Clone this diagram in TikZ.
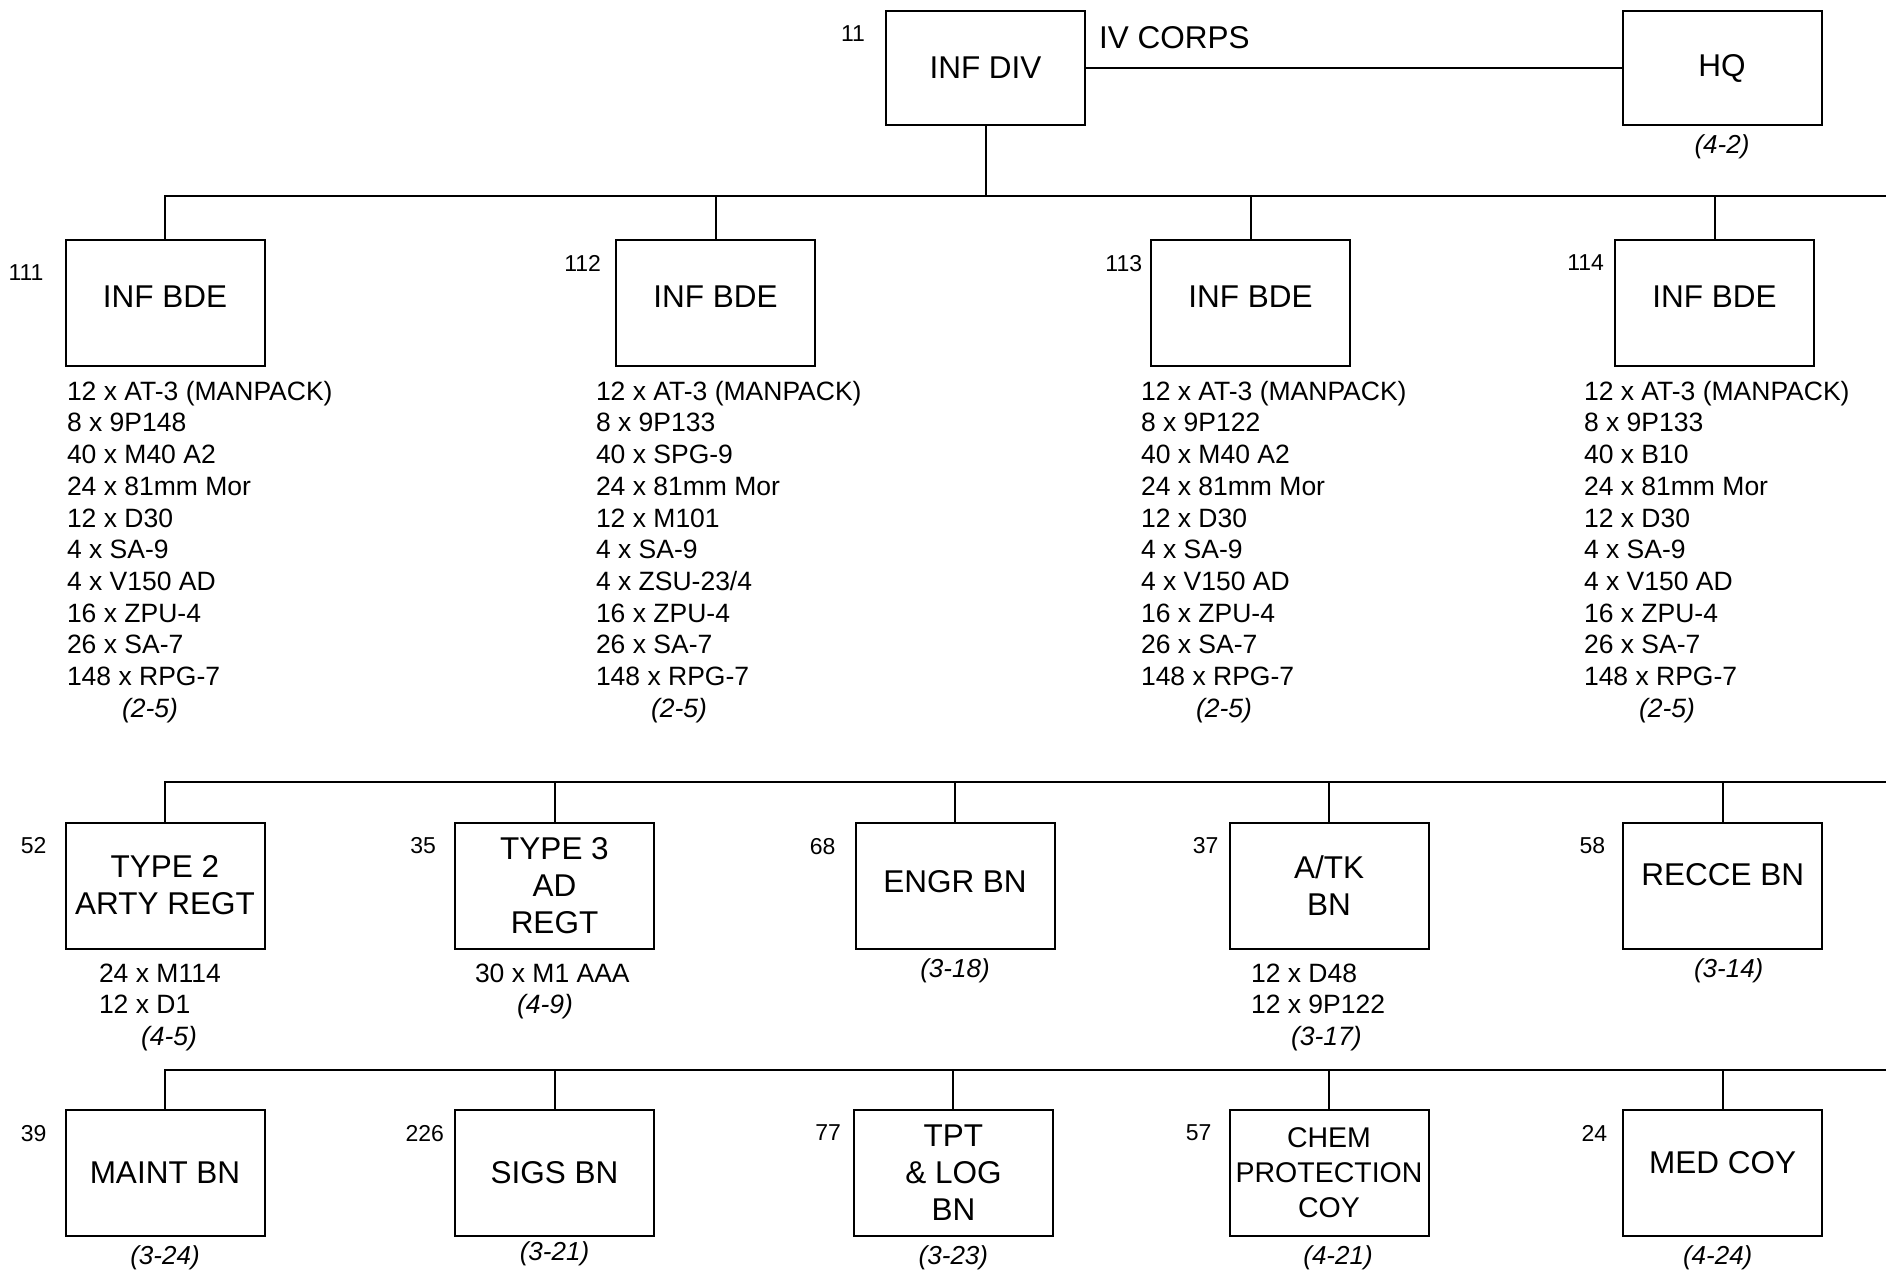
\documentclass[tikz,border=0pt]{standalone}
\usepackage{fontspec}
\setmainfont{Liberation Sans}
\usepackage{tikz}
\usetikzlibrary{positioning}
\newcommand\unitfont{\fontsize{31.5}{37}\selectfont}
\newcommand\chemfont{\fontsize{28.5}{35}\selectfont}
\newcommand\kitfont{\fontsize{26.5}{31.7}\selectfont}
\newcommand\numfont{\fontsize{23}{26}\selectfont}
\newcommand\reffont{\fontsize{26}{31}\selectfont\itshape}

\begin{document}
\begin{tikzpicture}[x=1pt,y=-1pt,line width=2pt,
    unit/.style={draw,minimum width=199pt,minimum height=126pt,inner sep=2pt,align=center,font=\unitfont},
    kit/.style={anchor=north west,align=left,inner sep=0pt,font=\kitfont},
    num/.style={inner sep=0pt,font=\numfont},
    ref/.style={inner sep=0pt,font=\reffont}]
        \useasboundingbox (0,0) rectangle (1886,1270);

        % division and corps HQ
        \node[unit,minimum height=114pt] (div) at (985.5,67.5) {INF DIV};
        \node[unit,minimum height=114pt,text depth=4pt] (hq) at (1722,67.5) {HQ};
        \node[num,below left=15pt and 19pt of div.north west] (n11) {11};
        \node[inner sep=0pt,font=\unitfont,below right=16pt and 12pt of div.north east] (corps) {IV CORPS};
        \node[ref,below=8pt of hq] (r42) {(4-2)};
        \draw (div) -- (hq);

        % brigades
        \node[unit,text depth=12pt] (b111) at (165,303) {INF BDE};
        \node[unit,text depth=12pt] (b112) at (715.5,303) {INF BDE};
        \node[unit,text depth=12pt] (b113) at (1250.6,303) {INF BDE};
        \node[unit,text depth=12pt] (b114) at (1714.5,303) {INF BDE};
        \node[num,below left=25pt and 20pt of b111.north west] (n111) {111};
        \node[num,below left=15pt and 13pt of b112.north west] (n112) {112};
        \node[num,below left=15pt and 7pt of b113.north west] (n113) {113};
        \node[num,below left=15pt and 9pt of b114.north west] (n114) {114};
        \node[kit] (k111) at (66,380) {12 x AT-3 (MANPACK)\\8 x 9P148\\40 x M40 A2\\24 x 81mm Mor\\12 x D30\\4 x SA-9\\4 x V150 AD\\16 x ZPU-4\\26 x SA-7\\148 x RPG-7\\\hspace*{55pt}\textit{(2-5)}};
        \node[kit] (k112) at (595,380) {12 x AT-3 (MANPACK)\\8 x 9P133\\40 x SPG-9\\24 x 81mm Mor\\12 x M101\\4 x SA-9\\4 x ZSU-23/4\\16 x ZPU-4\\26 x SA-7\\148 x RPG-7\\\hspace*{55pt}\textit{(2-5)}};
        \node[kit] (k113) at (1140,380) {12 x AT-3 (MANPACK)\\8 x 9P122\\40 x M40 A2\\24 x 81mm Mor\\12 x D30\\4 x SA-9\\4 x V150 AD\\16 x ZPU-4\\26 x SA-7\\148 x RPG-7\\\hspace*{55pt}\textit{(2-5)}};
        \node[kit] (k114) at (1583,380) {12 x AT-3 (MANPACK)\\8 x 9P133\\40 x B10\\24 x 81mm Mor\\12 x D30\\4 x SA-9\\4 x V150 AD\\16 x ZPU-4\\26 x SA-7\\148 x RPG-7\\\hspace*{55pt}\textit{(2-5)}};
        \coordinate (bus1) at (1886,196);
        \draw (div.south) -- (div.south |- bus1);
        \draw (b111.north) |- (bus1);
        \draw (b112.north) -- (b112.north |- bus1);
        \draw (b113.north) -- (b113.north |- bus1);
        \draw (b114.north) -- (b114.north |- bus1);

        % divisional troops, first line
        \node[unit] (b52) at (165,885.5) {TYPE 2\\ARTY REGT};
        \node[unit] (b35) at (554.5,885.5) {TYPE 3\\AD\\REGT};
        \node[unit,text depth=10pt] (b68) at (955,886) {ENGR BN};
        \node[unit] (b37) at (1329,885.5) {A/TK\\BN};
        \node[unit,text depth=22pt] (b58) at (1722.7,885.5) {RECCE BN};
        \node[num,below left=15pt and 17pt of b52.north west] (n52) {52};
        \node[num,below left=15pt and 17pt of b35.north west] (n35) {35};
        \node[num,below left=15pt and 18pt of b68.north west] (n68) {68};
        \node[num,below left=15pt and 9pt of b37.north west] (n37) {37};
        \node[num,below left=15pt and 16pt of b58.north west] (n58) {58};
        \node[kit] (k52) at (98,962.5) {24 x M114\\12 x D1\\\hspace*{42pt}\textit{(4-5)}};
        \node[kit] (k35) at (474,962.5) {30 x M1 AAA\\\hspace*{42pt}\textit{(4-9)}};
        \node[ref,below=8pt of b68] (r68) {(3-18)};
        \node[kit] (k37) at (1250,962.5) {12 x D48\\12 x 9P122\\\hspace*{40pt}\textit{(3-17)}};
        \node[ref,below=8pt of b58,xshift=6pt] (r58) {(3-14)};
        \coordinate (bus2) at (1886,782);
        \draw (b52.north) |- (bus2);
        \draw (b35.north) -- (b35.north |- bus2);
        \draw (b68.north) -- (b68.north |- bus2);
        \draw (b37.north) -- (b37.north |- bus2);
        \draw (b58.north) -- (b58.north |- bus2);

        % divisional troops, second line
        \node[unit] (b39) at (165,1173) {MAINT BN};
        \node[unit] (b226) at (554.5,1173) {SIGS BN};
        \node[unit] (b77) at (953.4,1173) {TPT\\\& LOG\\BN};
        \node[unit,font=\chemfont] (b57) at (1329,1173) {CHEM\\PROTECTION\\COY};
        \node[unit,text depth=22pt] (b24) at (1722.7,1173) {MED COY};
        \node[num,below left=15pt and 17pt of b39.north west] (n39) {39};
        \node[num,below left=15pt and 9pt of b226.north west] (n226) {226};
        \node[num,below left=15pt and 11pt of b77.north west] (n77) {77};
        \node[num,below left=15pt and 16pt of b57.north west] (n57) {57};
        \node[num,below left=15pt and 14pt of b24.north west] (n24) {24};
        \node[ref,below=8pt of b39] (r39) {(3-24)};
        \node[ref,below=4pt of b226] (r226) {(3-21)};
        \node[ref,below=8pt of b77] (r77) {(3-23)};
        \node[ref,below=8pt of b57,xshift=9pt] (r57) {(4-21)};
        \node[ref,below=8pt of b24,xshift=-5pt] (r24) {(4-24)};
        \coordinate (bus3) at (1886,1069.5);
        \draw (b39.north) |- (bus3);
        \draw (b226.north) -- (b226.north |- bus3);
        \draw (b77.north) -- (b77.north |- bus3);
        \draw (b57.north) -- (b57.north |- bus3);
        \draw (b24.north) -- (b24.north |- bus3);
      \end{tikzpicture}
\end{document}
